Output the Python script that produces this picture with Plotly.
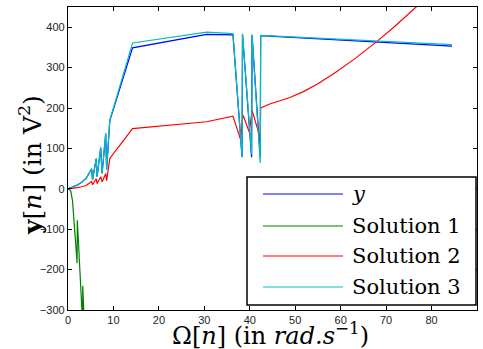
import plotly.graph_objects as go

# ---- data ----
x_y = [0, 1, 2, 3, 4, 4.6, 5.2, 5.4, 6.2, 6.4, 7.2, 7.5, 8.3, 8.5, 9.2, 14.2,
       30.5, 36.3, 38.3, 38.4, 40.4, 40.5, 42.3, 42.4, 84.5]
y_vals = [0, 4, 9, 16, 26, 38, 49, 22, 74, 30, 101, 38, 136, 48, 169, 349,
          382, 381, 79, 382, 78, 380, 78, 379, 353]

x_s1 = [0, 0.6, 1.0, 2.0, 2.05, 3.2, 3.25, 4.2]
y_s1 = [0, -5, -30, -184, -78, -330, -240, -520]

x_s2 = [0, 1, 2, 3, 4, 5.2, 5.4, 6.2, 6.4, 7.2, 7.5, 8.3, 8.5, 9.2, 14.2,
        30.5, 36.3, 38.0, 38.5, 39.9, 40.5, 42.3, 42.4, 44.4, 48.8, 51.7,
        55, 59, 63, 67.8, 72, 76.6, 80, 84.5]
y_s2 = [0, 1, 3, 5, 8, 18, 10, 25, 13, 30, 17, 38, 20, 75, 149,
        166, 180, 121, 183, 140, 194, 126, 200, 210, 226, 240,
        260, 289, 321, 363, 403, 450, 490, 545]

x_s3 = x_y
y_s3 = [0, 4, 9, 16, 26, 38, 50, 22, 75, 30, 103, 38, 138, 48, 170, 361,
        388, 384, 78, 384, 85, 382, 64, 380, 357]

names = ["y", "Solution 1", "Solution 2", "Solution 3"]
legend_labels = ["<i>y</i>", "Solution 1", "Solution 2", "Solution 3"]
colors = ["#0000ff", "#008000", "#ff0000", "#00bfbf"]

x_ticks = [0, 10, 20, 30, 40, 50, 60, 70, 80, 90]
y_ticks = [-300, -200, -100, 0, 100, 200, 300, 400]

fig = go.Figure()
series = [(x_y, y_vals), (x_s1, y_s1), (x_s2, y_s2), (x_s3, y_s3)]
for (xs, ys), nm, c in zip(series, names, colors):
    fig.add_trace(go.Scatter(x=xs, y=ys, mode="lines", name=nm,
                             line=dict(color=c, width=1.2), showlegend=False))

axis_common = dict(showline=True, linecolor="black", linewidth=1.2, mirror="allticks",
                   ticks="inside", ticklen=4, tickcolor="black", showgrid=False,
                   zeroline=False, automargin=False,
                   tickfont=dict(family="Liberation Sans", size=11, color="#222"))
fig.update_xaxes(range=[0, 90], tickvals=x_ticks, **axis_common)
fig.update_yaxes(range=[-300, 450], tickvals=y_ticks, **axis_common)

# ---- legend box (manual, to match the long sample lines) ----
L, R, B, T = 68, 477, 310, 7
def px(xp): return (xp - L) / (R - L)
def py(yp): return (B - yp) / (B - T)

shapes = [dict(type="rect", xref="paper", yref="paper", x0=px(247), x1=px(476),
               y0=py(305), y1=py(177), line=dict(color="black", width=1.5),
               fillcolor="white", layer="above")]
annotations = []
rows = [194, 226, 256, 287]
for lab, c, ry in zip(legend_labels, colors, rows):
    shapes.append(dict(type="line", xref="paper", yref="paper", x0=px(263), x1=px(343),
                       y0=py(ry), y1=py(ry), line=dict(color=c, width=1.2), layer="above"))
    annotations.append(dict(text=lab, xref="paper", yref="paper", x=px(350), y=py(ry),
                            xanchor="left", yanchor="middle", showarrow=False,
                            font=dict(family="DejaVu Serif", size=21, color="black")))

annotations.append(dict(text="Ω[<i>n</i>] (in <i>rad.s</i><sup>−1</sup>)", xref="paper", yref="paper",
                        x=px(270), y=py(334), xanchor="center", yanchor="middle", showarrow=False,
                        font=dict(family="DejaVu Serif", size=24, color="black")))
annotations.append(dict(text="<b>y</b>[<i>n</i>] (in V<sup>2</sup>)", xref="paper", yref="paper",
                        x=px(30), y=py(165), xanchor="center", yanchor="middle", showarrow=False,
                        textangle=-90,
                        font=dict(family="DejaVu Serif", size=25, color="black")))

fig.update_layout(width=483, height=349, margin=dict(l=L, r=483 - R, t=T, b=349 - B, autoexpand=False),
                  paper_bgcolor="white", plot_bgcolor="white",
                  shapes=shapes, annotations=annotations, showlegend=False)

fig.write_html("out.html", config={"displayModeBar": False},
               post_script="document.body.style.margin='0';document.body.style.padding='0';"
                           "document.body.style.overflow='hidden';")
